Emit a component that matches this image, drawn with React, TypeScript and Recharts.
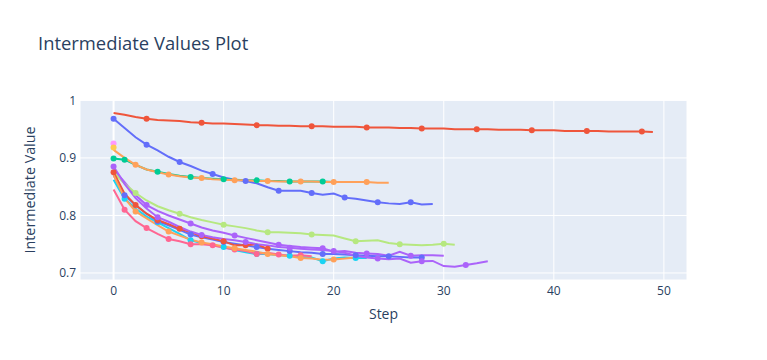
import { LineChart, Line, XAxis, YAxis, CartesianGrid, ReferenceLine } from 'recharts';

const STEP_TICKS = [0, 10, 20, 30, 40, 50];
const VALUE_TICKS = [0.7, 0.8, 0.9, 1];

// intermediate values per trial, index = step
const trial0 = [0.968, 0.952, 0.936, 0.923, 0.913, 0.902, 0.893, 0.886, 0.878, 0.872, 0.866, 0.862, 0.86, 0.856, 0.849, 0.843, 0.843, 0.843, 0.839, 0.836, 0.838, 0.831, 0.829, 0.826, 0.823, 0.821, 0.82, 0.823, 0.819, 0.82];
const trial1 = [0.978, 0.975, 0.971, 0.968, 0.966, 0.965, 0.964, 0.962, 0.961, 0.96, 0.96, 0.959, 0.958, 0.957, 0.957, 0.956, 0.956, 0.955, 0.955, 0.955, 0.954, 0.954, 0.954, 0.953, 0.953, 0.953, 0.952, 0.952, 0.951, 0.951, 0.951, 0.95, 0.95, 0.95, 0.95, 0.949, 0.949, 0.949, 0.948, 0.948, 0.948, 0.947, 0.947, 0.947, 0.947, 0.946, 0.946, 0.946, 0.946, 0.945];
const trial2 = [0.899, 0.897, 0.888, 0.88, 0.876, 0.872, 0.869, 0.867, 0.865, 0.864, 0.863, 0.862, 0.861, 0.861, 0.86, 0.86, 0.859, 0.859, 0.859, 0.859, 0.858];
const trial3 = [0.88, 0.858, 0.835, 0.818, 0.808, 0.8, 0.793, 0.786, 0.779, 0.774, 0.77, 0.765, 0.761, 0.757, 0.753, 0.749, 0.747, 0.745, 0.744, 0.743, 0.737, 0.738, 0.735, 0.734, 0.733, 0.73, 0.737, 0.73, 0.731, 0.731, 0.73];
const trial4 = [0.914, 0.9, 0.888, 0.88, 0.875, 0.871, 0.868, 0.866, 0.865, 0.863, 0.862, 0.861, 0.861, 0.86, 0.86, 0.859, 0.859, 0.859, 0.859, 0.858, 0.858, 0.858, 0.858, 0.858, 0.857, 0.857];
const trial5 = [0.862, 0.829, 0.812, 0.798, 0.788, 0.778, 0.768, 0.757, 0.752, 0.748, 0.745, 0.74, 0.736, 0.733, 0.733, 0.731, 0.73, 0.728, 0.727, 0.7205, 0.725, 0.727, 0.726, 0.726];
const trial6 = [0.845, 0.81, 0.79, 0.778, 0.768, 0.759, 0.755, 0.75, 0.75, 0.748, 0.744, 0.741, 0.738, 0.733, 0.735, 0.732, 0.73, 0.731, 0.729];
const trial7 = [0.875, 0.855, 0.839, 0.826, 0.816, 0.809, 0.803, 0.797, 0.792, 0.788, 0.784, 0.781, 0.778, 0.774, 0.771, 0.771, 0.77, 0.769, 0.767, 0.766, 0.765, 0.76, 0.755, 0.756, 0.757, 0.752, 0.75, 0.749, 0.748, 0.749, 0.751, 0.749];
const trial8 = [0.925];
const trial9 = [0.918];
const trial10 = [0.87, 0.835, 0.818, 0.803, 0.79, 0.783, 0.775, 0.767, 0.762, 0.758, 0.754, 0.751, 0.748, 0.745, 0.742, 0.74, 0.738, 0.736, 0.735, 0.733, 0.733, 0.732, 0.731, 0.73, 0.729, 0.729, 0.728, 0.727, 0.727];
const trial11 = [0.875, 0.838, 0.818, 0.803, 0.792, 0.785, 0.777, 0.771, 0.764, 0.76, 0.755, 0.748, 0.748, 0.75, 0.742];
const trial12 = [0.899];
const trial13 = [0.885, 0.855, 0.83, 0.812, 0.797, 0.789, 0.78, 0.772, 0.766, 0.762, 0.759, 0.757, 0.754, 0.75, 0.748, 0.745, 0.744, 0.742, 0.741, 0.74, 0.738, 0.735, 0.73, 0.727, 0.725, 0.724, 0.725, 0.718, 0.7205, 0.721, 0.712, 0.711, 0.714, 0.717, 0.7205];
const trial14 = [0.87, 0.83, 0.807, 0.795, 0.783, 0.772, 0.765, 0.758, 0.753, 0.75, 0.746, 0.743, 0.74, 0.737, 0.733, 0.731, 0.729, 0.726, 0.725, 0.723, 0.7235, 0.725, 0.727];

const TRIALS = [trial0, trial1, trial2, trial3, trial4, trial5, trial6, trial7, trial8, trial9, trial10, trial11, trial12, trial13, trial14];

const COLORWAY = ['#636efa', '#EF553B', '#00cc96', '#ab63fa', '#FFA15A', '#19d3f3', '#FF6692', '#B6E880', '#FF97FF', '#FECB52'];

const FONT = '"Open Sans", verdana, arial, sans-serif';
const TEXT = '#2a3f5f';

// plotly marker.maxdisplayed=10: show every inc-th point, staggered per trace
function makeDot(traceIndex: number, n: number, color: string) {
  const inc = Math.ceil(n / 10);
  const i0 = Math.round((traceIndex * inc) / 3 + (Math.floor(traceIndex / 3) * inc) / 7.1);
  return (props: any) => {
    const { cx, cy, index } = props;
    const key = `dot-${traceIndex}-${index}`;
    if (Math.round((index + i0) % inc) !== 0) return <g key={key} />;
    return <circle key={key} cx={cx} cy={cy} r={3} fill={color} stroke="none" />;
  };
}

export default function App() {
  return (
    <div style={{ position: 'absolute', left: 0, top: 0, width: 767, height: 360, background: '#fff', fontFamily: FONT }}>
      <div style={{ position: 'absolute', left: 38, top: 32, fontSize: 18.4, color: TEXT, lineHeight: '22px' }}>
        Intermediate Values Plot
      </div>
      <LineChart width={767} height={360} margin={{ top: 100, right: 80, bottom: 0, left: 0 }}>
        <CartesianGrid fill="#E5ECF6" stroke="#ffffff" strokeWidth={1} />
        <ReferenceLine x={0} stroke="#ffffff" strokeWidth={2} />
        <XAxis
          type="number"
          dataKey="step"
          domain={[-3.05, 52.1]}
          ticks={STEP_TICKS}
          allowDataOverflow
          axisLine={false}
          tickLine={false}
          tickSize={0}
          tickMargin={6}
          height={80}
          tick={{ fill: TEXT, fontSize: 12, fontFamily: FONT }}
          label={{ value: 'Step', position: 'insideBottom', offset: 41, fill: TEXT, fontSize: 14, fontFamily: FONT }}
        />
        <YAxis
          type="number"
          domain={[0.6878, 1.0007]}
          ticks={VALUE_TICKS}
          allowDataOverflow
          axisLine={false}
          tickLine={false}
          tickSize={0}
          tickMargin={4}
          width={80}
          tickFormatter={(v: number) => (v === 1 ? '1' : v.toFixed(1))}
          tick={{ fill: TEXT, fontSize: 12, fontFamily: FONT }}
          label={{ value: 'Intermediate Value', angle: -90, position: 'insideLeft', offset: 30, fill: TEXT, fontSize: 14.3, fontFamily: FONT, style: { textAnchor: 'middle' } }}
        />
        {TRIALS.map((values, t) => {
          const color = COLORWAY[t % COLORWAY.length];
          const data = values.map((v, i) => ({ step: i, value: v }));
          return (
            <Line
              key={`trial-${t}`}
              data={data}
              dataKey="value"
              name={`Trial${t}`}
              type="linear"
              stroke={color}
              strokeWidth={2}
              dot={makeDot(t, values.length, color)}
              activeDot={false}
              isAnimationActive={false}
            />
          );
        })}
      </LineChart>
    </div>
  );
}
